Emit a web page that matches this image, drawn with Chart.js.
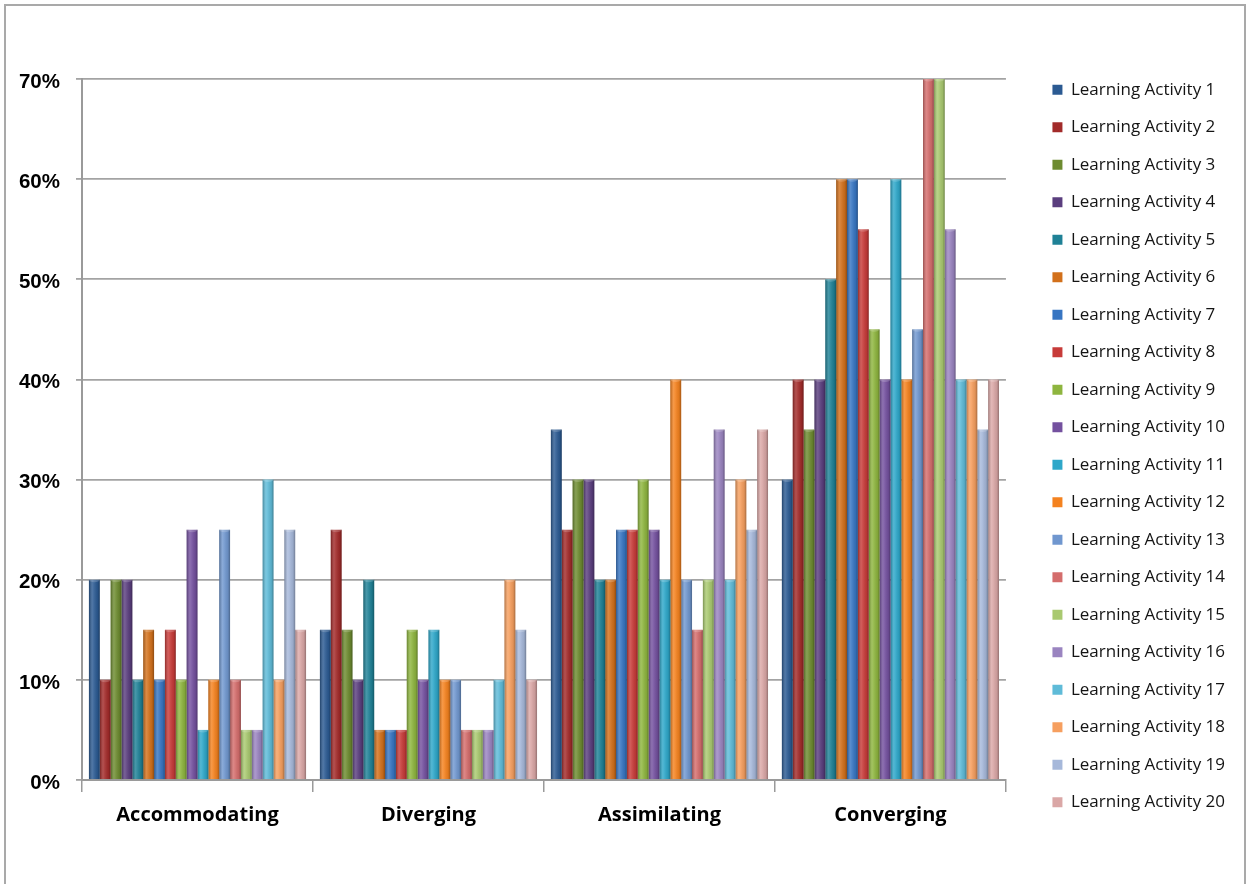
<!DOCTYPE html>
<html>
<head>
<meta charset="utf-8">
<title>Learning styles by learning activity</title>
<script src="https://cdn.jsdelivr.net/npm/chart.js@4.4.1/dist/chart.umd.min.js"></script>
<style>
  html, body { margin: 0; padding: 0; background: #ffffff; }
  #wrap { width: 1247px; height: 884px; position: relative; }
</style>
</head>
<body>
<div id="wrap"><canvas id="chart" width="1247" height="884"></canvas></div>
<script>
// Learning style categories along the x axis
const categories = ['Accommodating', 'Diverging', 'Assimilating', 'Converging'];

// Share of learners (percent) per learning activity, in category order
const activity1  = [20, 15, 35, 30];
const activity2  = [10, 25, 25, 40];
const activity3  = [20, 15, 30, 35];
const activity4  = [20, 10, 30, 40];
const activity5  = [10, 20, 20, 50];
const activity6  = [15,  5, 20, 60];
const activity7  = [10,  5, 25, 60];
const activity8  = [15,  5, 25, 55];
const activity9  = [10, 15, 30, 45];
const activity10 = [25, 10, 25, 40];
const activity11 = [ 5, 15, 20, 60];
const activity12 = [10, 10, 40, 40];
const activity13 = [25, 10, 20, 45];
const activity14 = [10,  5, 15, 70];
const activity15 = [ 5,  5, 20, 70];
const activity16 = [ 5,  5, 35, 55];
const activity17 = [30, 10, 20, 40];
const activity18 = [10, 20, 30, 40];
const activity19 = [25, 15, 25, 35];
const activity20 = [15, 10, 35, 40];

const seriesValues = [
  activity1, activity2, activity3, activity4, activity5,
  activity6, activity7, activity8, activity9, activity10,
  activity11, activity12, activity13, activity14, activity15,
  activity16, activity17, activity18, activity19, activity20
];
const seriesNames = seriesValues.map((_, i) => 'Learning Activity ' + (i + 1));

// Y axis tick values (percent)
const yTicks = [0, 10, 20, 30, 40, 50, 60, 70];

// Office-style palette: base hues, then darker, then lighter shades
const seriesColors = [
  '#2B5A92', '#A22B2A', '#6D8B30', '#5A3E7E', '#1F8196',
  '#D2701B', '#3775C2', '#C73B39', '#8EB53F', '#74519F',
  '#2EA7C9', '#F4821F', '#7097CF', '#D46D6C', '#A9C970',
  '#9A84C0', '#5FBBD8', '#F69F5F', '#A6B8DA', '#DAA7A6'
];

// Extra space between plot area and legend
const LEGEND_GAP = 26;
// Vertical shift of the legend column
const LEGEND_DROP = 4;

const frame = {
  id: 'frame',
  beforeDraw(chart) {
    const c = chart.ctx;
    c.save();
    c.fillStyle = '#ffffff';
    c.fillRect(0, 0, chart.width, chart.height);
    c.strokeStyle = '#a9a9a9';
    c.lineWidth = 2;
    c.beginPath();
    c.moveTo(5, chart.height);
    c.lineTo(5, 5);
    c.lineTo(chart.width - 2, 5);
    c.lineTo(chart.width - 2, chart.height);
    c.stroke();
    c.restore();
  }
};

// Keeps the legend in one column centred on the full height, with a gap to the plot
const legendGap = {
  id: 'legendGap',
  beforeLayout(chart) {
    const lg = chart.legend;
    if (lg && !lg.__gapFit) {
      const fit = lg.fit;
      lg.fit = function () {
        this.maxHeight = Math.max(this.maxHeight, chart.height);
        fit.call(this);
        this.width += LEGEND_GAP;
      };
      lg.__gapFit = true;
    }
  },
  afterLayout(chart) {
    const lg = chart.legend;
    if (lg) {
      lg.left += LEGEND_GAP;
      lg.top = LEGEND_DROP;
      lg.height = chart.height;
      lg.bottom = chart.height + LEGEND_DROP;
    }
  }
};

// Cylinder-like shading laid over each drawn bar
const cylinder = {
  id: 'cylinder',
  afterDatasetDraw(chart, args) {
    const c = chart.ctx;
    const meta = args.meta;
    c.save();
    meta.data.forEach(bar => {
      const p = bar.getProps(['x', 'y', 'base', 'width'], true);
      const l = p.x - p.width / 2, r = p.x + p.width / 2;
      const top = Math.min(p.y, p.base), bot = Math.max(p.y, p.base);
      const g = c.createLinearGradient(l, 0, r, 0);
      g.addColorStop(0, 'rgba(0,0,0,0.28)');
      g.addColorStop(0.3, 'rgba(255,255,255,0.18)');
      g.addColorStop(0.45, 'rgba(255,255,255,0.10)');
      g.addColorStop(0.8, 'rgba(0,0,0,0.08)');
      g.addColorStop(1, 'rgba(0,0,0,0.32)');
      c.fillStyle = g;
      c.fillRect(l, top, r - l, bot - top);
      c.beginPath();
      c.ellipse(p.x, top, (r - l) / 2, 2.5, 0, 0, Math.PI * 2);
      c.fillStyle = 'rgba(255,255,255,0.18)';
      c.fill();
    });
    c.restore();
  }
};

const datasets = seriesValues.map((vals, i) => ({
  label: seriesNames[i],
  data: vals,
  backgroundColor: seriesColors[i],
  borderWidth: 0,
  categoryPercentage: 0.94,
  barPercentage: 1.0
}));

new Chart(document.getElementById('chart'), {
  type: 'bar',
  data: { labels: categories, datasets },
  plugins: [frame, legendGap, cylinder],
  options: {
    responsive: false,
    animation: false,
    layout: { padding: { top: 79, left: 18, right: 12, bottom: 46 } },
    plugins: {
      tooltip: { enabled: false },
      legend: {
        position: 'right',
        align: 'center',
        labels: {
          boxWidth: 10,
          boxHeight: 10,
          padding: 20.5,
          color: '#141414',
          font: { family: 'Open Sans', size: 17 }
        }
      }
    },
    scales: {
      x: {
        grid: {
          display: true,
          offset: true,
          drawOnChartArea: false,
          drawTicks: true,
          tickLength: 12,
          color: '#9a9a9a',
          lineWidth: 1.5
        },
        border: { display: true, color: '#9a9a9a', width: 2 },
        ticks: {
          color: '#000000',
          padding: 11,
          font: { family: 'Open Sans', size: 20, weight: 'bold' }
        }
      },
      y: {
        min: 0,
        max: yTicks[yTicks.length - 1],
        afterBuildTicks(scale) { scale.ticks = yTicks.map(v => ({ value: v })); },
        afterFit(scale) { scale.width = 64; },
        grid: {
          color: '#a3a3a3',
          lineWidth: 1.8,
          tickLength: 6,
          drawTicks: true
        },
        border: { display: true, color: '#9a9a9a', width: 2 },
        ticks: {
          color: '#000000',
          padding: 16,
          labelOffset: 3,
          font: { family: 'Liberation Sans', size: 20.5, weight: 'bold' },
          callback: v => v + '%'
        }
      }
    }
  }
});
</script>
</body>
</html>
